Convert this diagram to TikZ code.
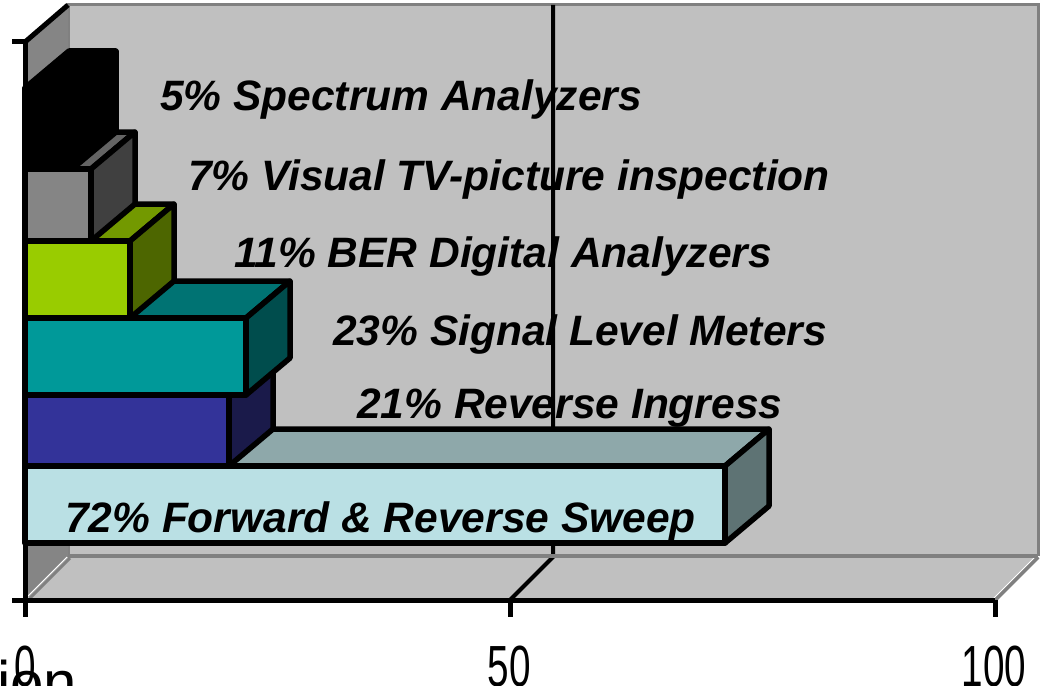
\documentclass[tikz,border=0pt]{standalone}
\usepackage{fontspec}
\setmainfont{Liberation Sans}
\usetikzlibrary{calc}

\definecolor{wallfill}{HTML}{C0C0C0}
\definecolor{wallrim}{HTML}{808080}
\definecolor{sidewall}{HTML}{858585}
% bar colours: front, top, side
\definecolor{sweepF}{HTML}{BAE0E4}\definecolor{sweepT}{HTML}{8EA8AA}\definecolor{sweepS}{HTML}{5E7374}
\definecolor{ingrF}{HTML}{333399}\definecolor{ingrT}{HTML}{262673}\definecolor{ingrS}{HTML}{1A1A4A}
\definecolor{slmF}{HTML}{009999}\definecolor{slmT}{HTML}{007373}\definecolor{slmS}{HTML}{004D4D}
\definecolor{berF}{HTML}{99CC00}\definecolor{berT}{HTML}{739900}\definecolor{berS}{HTML}{4D6600}
\definecolor{tvF}{HTML}{858585}\definecolor{tvT}{HTML}{646464}\definecolor{tvS}{HTML}{404040}

\tikzset{
  baredge/.style={draw=black, line width=5.5pt, line join=round},
  axisline/.style={draw=black, line width=5pt},
  gridline/.style={draw=black, line width=4pt},
  pcttext/.style={anchor=base west, inner sep=0pt,
    font=\fontsize{42.5}{50}\selectfont\bfseries\itshape},
  ticktext/.style={anchor=base, inner sep=0pt,
    font=\fontsize{38.7}{45}\selectfont},
}

% one 3D bar: #1 top y, #2 bottom y, #3 right x, #4 front, #5 top face, #6 side face
\newcommand\chartbar[6]{%
  \path[baredge, fill=#5] (25,#1) -- (69,{#1-37}) -- ({#3+44},{#1-37}) -- (#3,#1) -- cycle;
  \path[baredge, fill=#6] (#3,#1) -- ({#3+44},{#1-37}) -- ({#3+44},{#2-37}) -- (#3,#2) -- cycle;
  \path[baredge, fill=#4] (25,#1) rectangle (#3,#2);
}

\begin{document}
\begin{tikzpicture}[x=1pt,y=-1pt]
\useasboundingbox (0,0) rectangle (1046,685);
\clip (0,0) rectangle (1046,685);
\fill[white] (0,0) rectangle (1046,685);

% back wall
\fill[wallfill] (68,5) rectangle (1038,556);
\draw[wallrim, line width=3pt] (68,556) -- (68,5) -- (1038,5) -- (1038,556);

% side wall
\fill[sidewall] (25,42) -- (68,5) -- (68,557) -- (25,600) -- cycle;

% floor
\fill[wallfill] (25,600) -- (68,557) -- (1038,557) -- (995,600) -- cycle;
\draw[wallrim, line width=4pt] (995,600) -- (1038,557);
\draw[white, line width=1pt] (993,599) -- (1036,556);
\draw[wallrim, line width=3pt] (30,598) -- (70,558);
\draw[white, line width=1pt] (26,598) -- (67,557);

% category labels
\node[pcttext] (t5)  at (160,110) {5\% Spectrum Analyzers};
\node[pcttext] (t7)  at (188,190) {7\% Visual TV-picture inspection};
\node[pcttext] (t11) at (234,267) {11\% BER Digital Analyzers};
\node[pcttext] (t23) at (333,345) {23\% Signal Level Meters};
\node[pcttext] (t21) at (357,418) {21\% Reverse Ingress};

% gridline at 50
\coordinate (g50top) at (553,5);
\coordinate (g50back) at (553,557);
\coordinate (g50front) at (510,600);
\draw[gridline] (g50top) -- (g50back) -- (g50front);
\draw[wallrim, line width=4pt] (68,556) -- (1038,556);

% bars, lowest first
\chartbar{466}{543}{725}{sweepF}{sweepT}{sweepS}
\chartbar{395}{466}{229}{ingrF}{ingrT}{ingrS}
\chartbar{318}{395}{246}{slmF}{slmT}{slmS}
\chartbar{241}{318}{130}{berF}{berT}{berS}
\chartbar{169}{241}{91}{tvF}{tvT}{tvS}
\chartbar{88}{169}{72}{black}{black}{black}

\node[pcttext] (t72) at (65,532) {72\% Forward \& Reverse Sweep};

% axes
\draw[axisline] (25,42) -- (68,5);
\draw[axisline] (12,42) -- (25,42) -- (25,600);
\draw[axisline] (12,600) -- (995,600);
\draw[axisline] (25,600) -- (25,617);
\draw[axisline] (510,600) -- (510,617);
\draw[axisline] (995,600) -- (995,617);

% tick labels
\node[ticktext] (x0)   at (25,686)  {\scalebox{1}[1.5]{0}};
\node[ticktext] (x50)  at (509,686) {\scalebox{1}[1.5]{50}};
\node[ticktext] (x100) at (994,686) {\scalebox{1}[1.5]{100}};

% text running off the lower edge
\node[anchor=base west, inner sep=0pt, font=\fontsize{60}{70}\selectfont] (tail) at (-3,703) {ion};
\end{tikzpicture}
\end{document}
